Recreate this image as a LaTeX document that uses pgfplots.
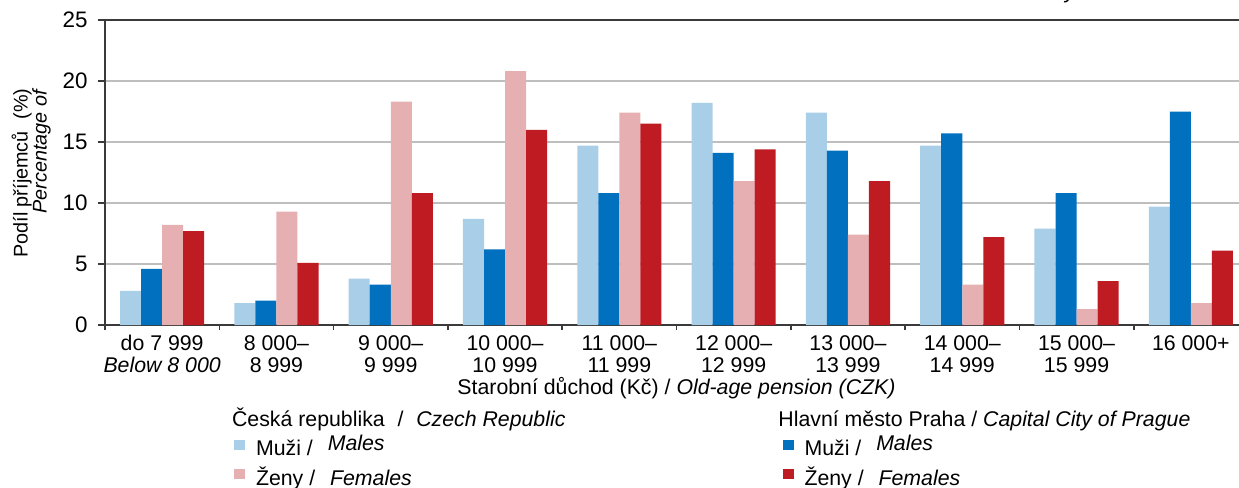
\documentclass[border=0pt]{standalone}
\usepackage{fontspec}
\setmainfont{Liberation Sans}
\usepackage{pgfplots}
\pgfplotsset{compat=1.18}
\definecolor{cmale}{HTML}{A9CEE8}
\definecolor{pmale}{HTML}{0070BF}
\definecolor{cfem}{HTML}{E6AFB2}
\definecolor{pfem}{HTML}{BE1B23}
\definecolor{axc}{HTML}{3A3A3A}
\definecolor{gridc}{HTML}{BEBEBE}
\begin{document}
\fontsize{10.65pt}{11pt}\selectfont
\begin{tikzpicture}
\begin{axis}[
  at={(0pt,0pt)}, anchor=south west,
  scale only axis, width=571.5pt, height=152.5pt,
  xmin=-0.5, xmax=9.5, ymin=0, ymax=25,
  ytick={0,5,...,25},
  xtick={0,...,9},
  xticklabels={{do 7 999\\\textit{Below 8 000}},{8 000–\\8 999},{9 000–\\9 999},{10 000–\\10 999},{11 000–\\11 999},{12 000–\\12 999},{13 000–\\13 999},{14 000–\\14 999},{15 000–\\15 999},{16 000+}},
  minor xtick={-0.5,0.5,...,9.5},
  xtick pos=bottom, ytick pos=left,
  tick align=outside,
  major x tick style={draw=none},
  major tick length=3.5pt, minor tick length=2.5pt,
  tick style={axc, line width=0.8pt},
  ymajorgrids, grid style={gridc, line width=0.75pt},
  axis line style={axc, line width=1pt},
  /pgf/number format/assume math mode=true,
  yticklabel style={anchor=east, inner sep=0pt, xshift=-5pt, font=\fontsize{11.2pt}{12pt}\selectfont},
  xticklabel style={anchor=north, inner sep=0pt, yshift=-1.5pt, align=center, font=\fontsize{10.65pt}{11pt}\selectfont},
  xlabel={Starobní důchod (Kč) / \textit{Old-age pension (CZK)}},
  xlabel style={at={(axis description cs:0.5,0)}, anchor=base, yshift=-34.5pt, inner sep=0pt},
  ylabel={Podíl příjemců\hspace{0.6em}(\%)\\\textit{Percentage of}},
  ylabel style={at={(axis description cs:-0.0645,0.777)}, anchor=east, align=right, inner sep=0pt, font=\fontsize{9.9pt}{9.5pt}\selectfont},
  legend columns=2,
  legend image code/.code={\fill[#1] (0pt,-0.95pt) rectangle (5.5pt,4.05pt);},
  legend style={at={(axis description cs:0.1129,-0.378)}, anchor=north west, draw=none, fill=none, inner sep=0pt, outer sep=0pt, row sep=6.7pt,
    nodes={inner sep=0pt, text height=7.6pt, text depth=0pt},
    /tikz/every odd column/.append style={column sep=5.5pt}},
  legend cell align=left,
]
\addplot[ybar, fill=cmale, draw=none, bar width=0.184, bar shift=-0.276, forget plot] coordinates {(0,2.8)(1,1.8)(2,3.8)(3,8.7)(4,14.7)(5,18.2)(6,17.4)(7,14.7)(8,7.9)(9,9.7)};
\addplot[ybar, fill=pmale, draw=none, bar width=0.184, bar shift=-0.092, forget plot] coordinates {(0,4.6)(1,2.0)(2,3.3)(3,6.2)(4,10.8)(5,14.1)(6,14.3)(7,15.7)(8,10.8)(9,17.5)};
\addplot[ybar, fill=cfem, draw=none, bar width=0.184, bar shift=0.092, forget plot] coordinates {(0,8.2)(1,9.3)(2,18.3)(3,20.8)(4,17.4)(5,11.8)(6,7.4)(7,3.3)(8,1.3)(9,1.8)};
\addplot[ybar, fill=pfem, draw=none, bar width=0.184, bar shift=0.276, forget plot] coordinates {(0,7.7)(1,5.1)(2,10.8)(3,16.0)(4,16.5)(5,14.4)(6,11.8)(7,7.2)(8,3.6)(9,6.1)};
\addlegendimage{fill=cmale, draw=none}
\addlegendentry{\makebox[263.25pt][l]{Muži /\hspace{0.7em}\raisebox{2.5pt}{\textit{Males}}}}
\addlegendimage{fill=pmale, draw=none}
\addlegendentry{Muži /\hspace{0.7em}\raisebox{2.5pt}{\textit{Males}}}
\addlegendimage{fill=cfem, draw=none}
\addlegendentry{\makebox[263.25pt][l]{Ženy /\hspace{0.7em}\textit{Females}}}
\addlegendimage{fill=pfem, draw=none}
\addlegendentry{Ženy /\hspace{0.7em}\textit{Females}}
\end{axis}
\node[anchor=base west, inner sep=0pt] at (63.35pt,-50.85pt) {Česká republika\hspace{0.6em}/\hspace{0.6em}\textit{Czech Republic}};
\node[anchor=base west, inner sep=0pt] at (336.5pt,-50.85pt) {Hlavní město Praha / \textit{Capital City of Prague}};
\node[anchor=base east, inner sep=0pt] at (556pt,163.1pt) {\textit{Source: Czech Social Security Administration}};
\pgfresetboundingbox
\useasboundingbox (-52.5pt,-81.5pt) rectangle (567pt,162.5pt);
\end{tikzpicture}
\end{document}
